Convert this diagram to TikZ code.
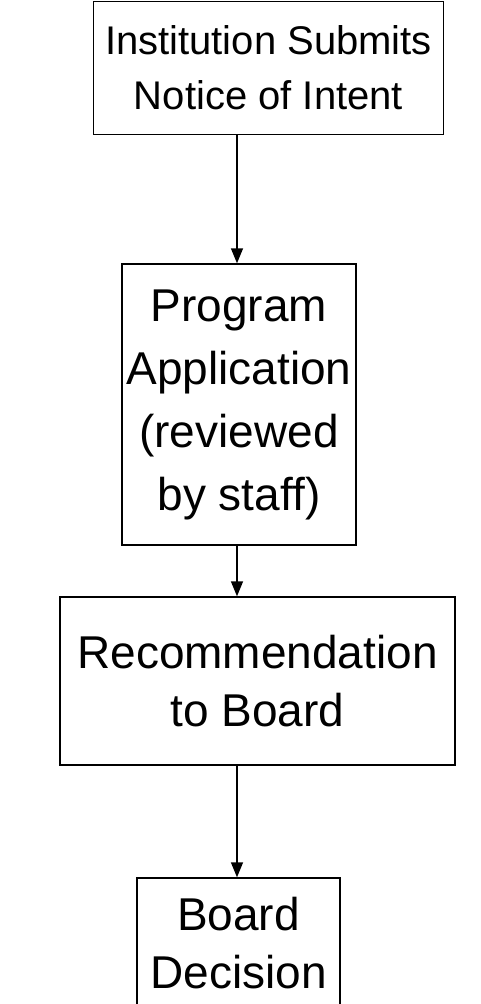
\documentclass[tikz,border=0pt]{standalone}
\usepackage{fontspec}
\setmainfont{Liberation Sans}
\usetikzlibrary{arrows.meta,positioning}

\begin{document}
\begin{tikzpicture}[x=1pt, y=-1pt, line width=1.4pt,
  stage/.style={draw, rectangle, inner sep=0pt, align=center,
    font=\fontsize{46}{58}\selectfont},
  flow/.style={-{Triangle[length=15pt,width=12pt]}}]
\useasboundingbox (0,0) rectangle (480,1004);
\clip (0,0) rectangle (480,1004);
\node (notice) [stage, font=\fontsize{40}{55}\selectfont, minimum width=350pt, minimum height=133pt] at (268.5,68) {Institution Submits\\Notice of Intent};
\node (application) [stage, font=\fontsize{46}{63}\selectfont, minimum width=234pt, minimum height=281pt] at (239,404.5) {Program\\Application\\(reviewed\\by staff)};
\node (recommend) [stage, minimum width=395pt, minimum height=168pt] at (257.5,681) {Recommendation\\to Board};
\node (decision) [stage, minimum width=203pt, minimum height=130pt] at (238.5,943) {Board\\Decision};

\coordinate (axis) at (237,0);
\draw[flow] (axis |- notice.south) -- (axis |- application.north);
\draw[flow] (axis |- application.south) -- (axis |- recommend.north);
\draw[flow] (axis |- recommend.south) -- (axis |- decision.north);
\end{tikzpicture}
\end{document}
